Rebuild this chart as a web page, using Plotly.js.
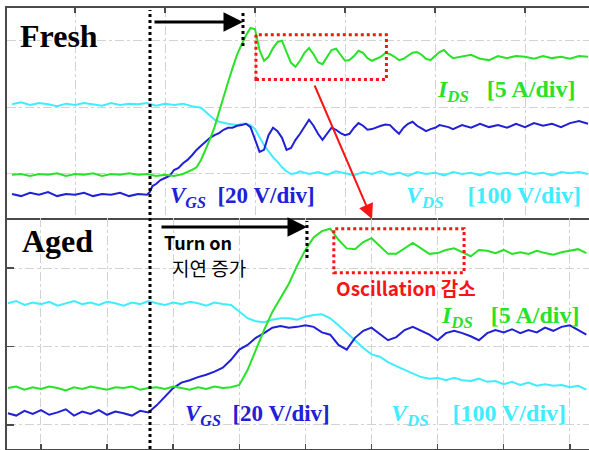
<!DOCTYPE html>
<html>
<head>
<meta charset="utf-8">
<script src="https://cdn.plot.ly/plotly-3.0.1.min.js"></script>
<style>html,body{margin:0;padding:0;background:#fff;}#chart{width:589px;height:450px;}</style>
</head>
<body>
<div id="chart"></div>
<script>
// ---------- Fresh (top) : time in divisions, signal in divisions ----------
const freshIdsT = [-0.7,-0.6,-0.5,-0.4,-0.3,-0.2,-0.1,0,0.1,0.2,0.3,0.4,0.5,0.6,0.7,0.8,0.9,1.0,1.1,1.2,1.3,
  1.35,1.4,1.45,1.5,1.55,1.6,1.65,1.7,1.75,1.8,1.85,1.9,1.95,2.0,2.05,2.1,2.15,2.2,2.25,2.3,2.35,2.4,2.45,2.5,
  2.55,2.6,2.65,2.7,2.75,2.8,2.85,2.9,2.95,3.0,3.05,3.1,3.15,3.2,3.25,3.3,3.35,3.4,3.45,3.5,3.55,3.6,3.65,3.7,
  3.75,3.8,3.85,3.9,3.95,4.0,4.05,4.1,4.15,4.2,4.3,4.4,4.5,4.6,4.7,4.8,4.9,5.0,5.1,5.2,5.3,5.4,5.5,5.6,5.7];
const freshIds = [-0.01,0,-0.03,0,-0.01,0.01,-0.03,0,-0.01,0.01,-0.03,0,-0.01,0.01,-0.01,0,-0.03,-0.01,-0.03,0,0.06,
  0.10,0.21,0.36,0.52,0.70,0.93,1.13,1.37,1.58,1.78,1.93,2.07,2.18,2.16,1.85,1.69,1.75,1.88,1.97,1.99,1.82,1.66,1.60,1.69,
  1.81,1.88,1.79,1.67,1.64,1.75,1.85,1.87,1.78,1.69,1.70,1.76,1.84,1.81,1.73,1.69,1.72,1.75,1.81,1.79,1.75,1.70,1.72,1.76,
  1.81,1.82,1.78,1.72,1.70,1.76,1.82,1.85,1.78,1.73,1.76,1.78,1.72,1.70,1.76,1.73,1.76,1.75,1.72,1.76,1.73,1.75,1.72,1.76,1.75];

const freshVgsT = [-0.7,-0.6,-0.5,-0.4,-0.3,-0.2,-0.1,0,0.1,0.2,0.3,0.4,0.5,0.6,0.7,0.8,0.83,0.86,
  0.9,0.95,1.0,1.05,1.1,1.15,1.2,1.25,1.3,1.35,1.4,1.45,1.5,1.55,1.6,1.65,1.7,1.75,1.8,1.85,1.9,1.95,2.0,2.05,2.1,
  2.15,2.2,2.25,2.3,2.35,2.4,2.45,2.5,2.55,2.6,2.65,2.7,2.75,2.8,2.85,2.9,2.95,3.0,3.05,3.1,3.15,3.2,3.25,3.3,3.35,
  3.4,3.45,3.5,3.55,3.6,3.65,3.7,3.75,3.8,3.85,3.9,3.95,4.0,4.05,4.1,4.15,4.2,
  4.3,4.4,4.5,4.6,4.7,4.8,4.9,5.0,5.1,5.2,5.3,5.4,5.5,5.6,5.7];
const freshVgs = [-0.30,-0.33,-0.28,-0.31,-0.27,-0.33,-0.30,-0.31,-0.28,-0.33,-0.30,-0.31,-0.28,-0.33,-0.30,-0.31,-0.27,-0.18,
  -0.15,-0.09,-0.06,-0.03,0.06,0.09,0.16,0.21,0.28,0.36,0.42,0.48,0.54,0.58,0.61,0.66,0.69,0.69,0.72,0.73,0.75,0.70,0.51,0.33,0.36,
  0.58,0.69,0.64,0.54,0.36,0.39,0.51,0.60,0.70,0.81,0.72,0.60,0.51,0.60,0.69,0.66,0.61,0.58,0.60,0.69,0.76,0.72,0.66,0.67,0.70,
  0.72,0.74,0.73,0.66,0.60,0.69,0.75,0.78,0.72,0.68,0.64,0.67,0.69,0.73,0.72,0.70,0.67,
  0.73,0.69,0.75,0.70,0.73,0.69,0.75,0.70,0.76,0.72,0.75,0.70,0.76,0.79,0.75];

const freshVdsT = [-0.7,-0.6,-0.5,-0.4,-0.3,-0.2,-0.1,0,0.1,0.2,0.3,0.4,0.5,0.6,0.7,0.8,0.9,1.0,1.1,1.2,1.3,1.4,
  1.45,1.5,1.55,1.6,1.65,1.7,1.75,1.8,1.85,1.9,1.95,2.0,2.05,2.1,2.15,2.2,2.25,2.3,2.35,2.4,2.45,2.5,
  2.6,2.7,2.8,2.9,3.0,3.1,3.2,3.3,3.4,3.5,3.6,3.7,3.8,3.9,4.0,4.1,4.2,4.3,4.4,4.5,4.6,4.7,4.8,4.9,5.0,5.1,5.2,5.3,5.4,5.5,5.6,5.7];
const freshVds = [1.04,1.07,1.03,1.06,1.04,1.01,1.05,1.03,1.06,1.04,1.02,1.06,1.03,1.05,1.04,1.06,1.02,1.05,1.03,1.05,1.01,0.99,
  0.93,0.87,0.81,0.78,0.76,0.75,0.74,0.73,0.75,0.75,0.73,0.67,0.55,0.43,0.34,0.25,0.18,0.10,0.04,0.00,0.01,0.04,
  0.00,0.03,-0.01,0.04,0.01,-0.02,0.03,0.00,0.04,-0.01,0.02,-0.03,0.03,0.00,0.02,-0.02,0.03,0.00,0.02,-0.02,0.03,0.00,0.02,-0.01,0.03,0.00,0.02,-0.02,0.03,0.01,0.03,0.00];

// ---------- Aged (bottom) ----------
const agedT = [-0.5,-0.375,-0.25,-0.125,0,0.125,0.25,0.375,0.5,0.625,0.75,0.875,1.0,1.125,1.25,1.375,1.5,1.625,
  1.75,1.875,2.0,2.125,2.25,2.375,2.5,2.625,2.75,2.875,3.0,3.125,3.25,3.375,3.5,3.625,3.75,3.875,4.0,4.125,4.25,4.375,
  4.5,4.625,4.75,4.875,5.0,5.125,5.25,5.375,5.5,5.625,5.75,5.875,6.0,6.125,6.25,6.375,6.5,6.625,6.75,6.875,7.0,7.125,
  7.25,7.375,7.5,7.625,7.75,7.875,8.0,8.125,8.25];
const agedVgs = [0.15,0.12,0.18,0.14,0.19,0.13,0.16,0.20,0.12,0.17,0.14,0.19,0.13,0.17,0.15,0.12,0.18,0.16,
  0.25,0.36,0.47,0.54,0.57,0.61,0.64,0.68,0.73,0.83,0.96,1.02,1.11,1.17,1.24,1.26,1.24,1.25,1.27,1.25,1.18,1.15,
  1.02,0.96,1.11,1.20,1.24,1.16,1.08,1.12,1.21,1.25,1.20,1.15,1.08,1.17,1.20,1.17,1.13,1.08,1.17,1.21,1.18,1.22,
  1.17,1.21,1.18,1.24,1.20,1.25,1.27,1.21,1.15];
const agedIds = [0.47,0.49,0.45,0.48,0.46,0.49,0.47,0.44,0.48,0.46,0.49,0.47,0.45,0.48,0.47,0.49,0.45,0.47,
  0.48,0.46,0.49,0.47,0.45,0.48,0.46,0.49,0.47,0.48,0.51,0.70,0.96,1.21,1.44,1.62,1.80,2.03,2.23,2.39,2.47,2.50,
  2.36,2.25,2.24,2.33,2.38,2.28,2.18,2.18,2.25,2.32,2.25,2.18,2.19,2.23,2.25,2.20,2.15,2.23,2.22,2.19,2.23,2.18,
  2.20,2.18,2.22,2.19,2.17,2.20,2.22,2.24,2.19];
const agedVds = [1.55,1.58,1.53,1.56,1.54,1.57,1.52,1.55,1.58,1.54,1.56,1.53,1.57,1.55,1.52,1.56,1.54,1.58,
  1.55,1.53,1.56,1.54,1.57,1.55,1.52,1.56,1.54,1.53,1.45,1.36,1.32,1.31,1.34,1.36,1.36,1.34,1.38,1.40,1.41,1.36,
  1.27,1.18,1.08,0.98,0.90,0.87,0.80,0.75,0.70,0.65,0.61,0.59,0.60,0.57,0.60,0.57,0.56,0.59,0.55,0.56,0.52,0.55,
  0.51,0.54,0.50,0.52,0.50,0.51,0.48,0.50,0.45];

const panelLabels = ['Fresh', 'Aged'];

const GREEN = 'rgb(40,226,40)', BLUE = 'rgb(32,32,214)', CYAN = 'rgb(64,236,255)', RED = 'rgb(250,20,20)';
const W = 589, H = 450;
const fx = p => p / W, fy = p => 1 - p / H;

function tr(x, y, color, xa, ya) {
  return {x: x, y: y, type: 'scatter', mode: 'lines', xaxis: xa, yaxis: ya,
          line: {color: color, width: 2}, hoverinfo: 'skip'};
}
const data = [
  tr(freshVdsT, freshVds, CYAN, 'x', 'y'),
  tr(freshVgsT, freshVgs, BLUE, 'x', 'y'),
  tr(freshIdsT, freshIds, GREEN, 'x', 'y'),
  tr(agedT, agedVds, CYAN, 'x2', 'y2'),
  tr(agedT, agedVgs, BLUE, 'x2', 'y2'),
  tr(agedT, agedIds, GREEN, 'x2', 'y2')
];

const gridBase = {showgrid: true, gridcolor: '#d2d2d2', griddash: 'dashdot', gridwidth: 1, zeroline: false,
  showticklabels: false, dtick: 1, tick0: 0, showline: true, linecolor: '#4a4a4a', linewidth: 2,
  ticks: 'inside', tickcolor: '#4a4a4a', tickwidth: 1.5, ticklen: 5, fixedrange: true};

const serif = 'Liberation Serif, Times New Roman, serif';
const kr = 'Noto Sans CJK KR, Noto Sans, sans-serif';
function label(text, x, y, color, size, family, anchor) {
  return {text: text, xref: 'paper', yref: 'paper', x: fx(x), y: fy(y), xanchor: anchor || 'left',
          yanchor: 'middle', showarrow: false, borderpad: 0, font: {family: family, size: size, color: color}};
}
function arrow(hx, hy, dx, dy, color, width, size) {
  return {text: '', xref: 'paper', yref: 'paper', x: fx(hx), y: fy(hy), axref: 'pixel', ayref: 'pixel',
          ax: dx, ay: dy, showarrow: true, arrowhead: 2, arrowsize: size, arrowwidth: width,
          arrowcolor: color, standoff: 0, startstandoff: 0};
}

const layout = {
  width: W, height: H, margin: {l: 0, r: 0, t: 0, b: 0}, showlegend: false,
  paper_bgcolor: '#fff', plot_bgcolor: '#fff',
  xaxis: Object.assign({}, gridBase, {domain: [fx(7), 1], range: [-0.756, 5.711], anchor: 'y', side: 'top', mirror: true}),
  yaxis: Object.assign({}, gridBase, {domain: [fy(218), fy(8)], range: [-0.657, 2.478], anchor: 'x', ticks: ''}),
  xaxis2: Object.assign({}, gridBase, {domain: [fx(7), 1], range: [-0.514, 8.29], anchor: 'y2'}),
  yaxis2: Object.assign({}, gridBase, {domain: [fy(449), fy(218)], range: [-0.306, 2.637], anchor: 'x2', ticklen: 7}),
  shapes: [
    {type: 'line', xref: 'paper', yref: 'paper', x0: fx(150), x1: fx(150), y0: fy(449), y1: fy(10),
     line: {color: '#000', width: 3, dash: 'dot'}},
    {type: 'line', xref: 'paper', yref: 'paper', x0: fx(243), x1: fx(243), y0: fy(46), y1: fy(10),
     line: {color: '#000', width: 3, dash: 'dot'}},
    {type: 'line', xref: 'paper', yref: 'paper', x0: fx(307), x1: fx(307), y0: fy(258), y1: fy(221),
     line: {color: '#000', width: 3, dash: 'dot'}},
    {type: 'rect', xref: 'x', yref: 'y', x0: 2.01, x1: 3.46, y0: 1.41, y1: 2.08,
     line: {color: RED, width: 3, dash: 'dot'}},
    {type: 'rect', xref: 'x2', yref: 'y2', x0: 4.43, x1: 6.40, y0: 1.94, y1: 2.50,
     line: {color: RED, width: 3, dash: 'dot'}}
  ],
  annotations: [
    label('<b>' + panelLabels[0] + '</b>', 19, 36, '#000', 32, serif),
    label('<b>' + panelLabels[1] + '</b>', 21, 241, '#000', 32, serif),
    label('<b>Turn on</b>', 198, 242, '#000', 18, kr, 'center'),
    label('지연 증가', 209, 267, '#000', 19, kr, 'center'),
    label('<b>Oscillation 감소</b>', 406, 287, RED, 19, kr, 'center'),
    label('<b><i>I</i><sub><i>DS</i></sub>&nbsp;&nbsp;&nbsp;[5 A/div]</b>', 436, 91, GREEN, 24, serif),
    label('<b><i>V</i><sub><i>GS</i></sub>&nbsp;&nbsp;[20 V/div]</b>', 169, 197, BLUE, 23, serif),
    label('<b><i>V</i><sub><i>DS</i></sub>&nbsp;&nbsp;&nbsp;&nbsp;[100 V/div]</b>', 405, 197, CYAN, 24, serif),
    label('<b><i>I</i><sub><i>DS</i></sub>&nbsp;&nbsp;&nbsp;[5 A/div]</b>', 440, 317, GREEN, 24, serif),
    label('<b><i>V</i><sub><i>GS</i></sub>&nbsp;&nbsp;[20 V/div]</b>', 184, 415, BLUE, 23, serif),
    label('<b><i>V</i><sub><i>DS</i></sub>&nbsp;&nbsp;&nbsp;&nbsp;[100 V/div]</b>', 390, 415, CYAN, 24, serif),
    arrow(243, 22, -90, 0, '#000', 3, 1.3),
    arrow(307, 227, -147, 0, '#000', 3, 1.3),
    arrow(372, 219, -58, -135, RED, 2, 1.5)
  ]
};

Plotly.newPlot('chart', data, layout, {staticPlot: true, displayModeBar: false});
</script>
</body>
</html>
